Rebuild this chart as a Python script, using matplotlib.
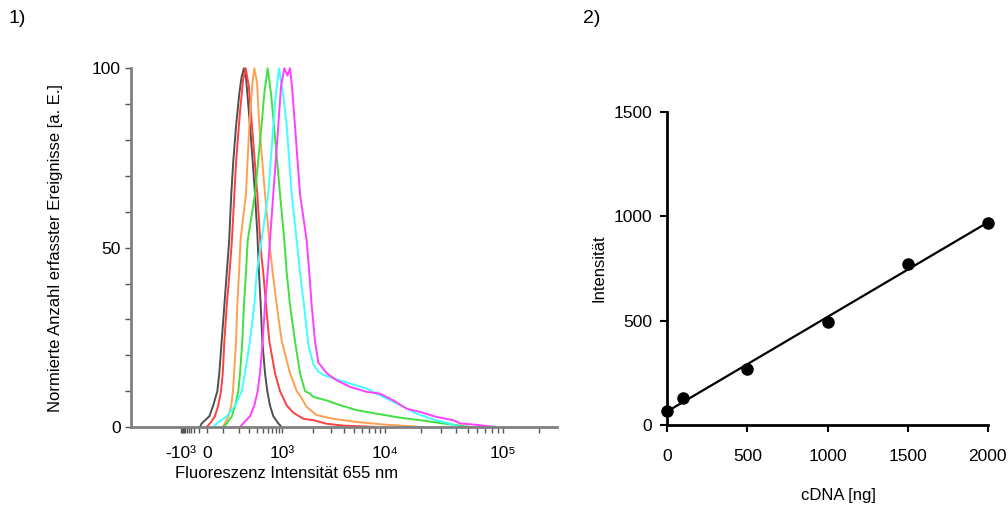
import numpy as np
import matplotlib
matplotlib.use("Agg")
import matplotlib.pyplot as plt
from matplotlib.ticker import FixedLocator, FixedFormatter, NullFormatter

plt.rcParams['font.family'] = ['Liberation Sans', 'DejaVu Sans']

# ---- panel 1: flow cytometry histograms (fluorescence, normalised counts)
black_x = [-90, -65, 13, 35, 60, 73, 90, 107, 120, 134, 147, 160, 180, 205, 224, 246, 266, 280, 310, 343, 374, 407,
           433, 461, 489, 540, 587, 647, 730, 874, 989]
black_y = [0, 1, 3, 6, 10, 15, 24, 34, 43, 52, 65, 74, 84, 93, 97.5, 100, 97.5, 93, 84, 74, 65, 54,
           43, 34, 24, 15, 10, 6, 3, 1, 0]

red_x = [-5, 17, 45, 66, 85, 98, 107, 120, 136, 151, 180, 211, 239, 263, 296, 334, 407, 461, 478, 507, 560, 631,
         776, 930, 1111, 1287, 1610, 2013, 2716, 3910, 8300]
red_y = [0, 1, 3, 6, 10, 15, 24, 34, 43, 52, 74, 88, 97, 100, 95, 84, 65, 50, 47, 43, 34, 24,
         15, 10, 6, 4, 2.3, 1.9, 0.9, 0.4, 0]

orange_x = [98, 110, 129, 147, 158, 166, 180, 189, 203, 215, 266, 302, 340, 364, 403, 438, 540, 647, 714, 826, 989,
            1196, 1389, 1496, 1737, 2173, 3148, 5310, 9620, 20420]
orange_y = [0, 1, 3, 6, 10, 15, 24, 34, 43, 52, 65, 84, 96, 100, 96, 84, 65, 50, 43, 34, 24,
            15, 10, 8.8, 5.6, 3.3, 2.3, 1.4, 0.7, 0]

green_x = [102, 120, 151, 173, 197, 211, 231, 246, 266, 284, 374, 475, 526, 595, 671, 748, 930, 1053, 1111, 1196,
           1337, 1496, 1673, 1870, 2013, 2339, 2716, 3656, 5310, 8300, 13390, 19760, 29170, 40370, 52300]
green_y = [0, 1, 3, 6, 10, 15, 24, 34, 43, 52, 65, 84, 93, 100, 93, 84, 65, 52, 43, 34,
           24, 15, 10, 9.3, 8.4, 7.9, 7.4, 6.1, 4.7, 3.7, 2.6, 1.9, 1.1, 0.5, 0]

cyan_x = [35, 56, 120, 173, 226, 256, 310, 364, 398, 475, 608, 730, 803, 897, 1022, 1111, 1242, 1389, 1496, 1635,
          1800, 2013, 2251, 2518, 3656, 6640, 9620, 13390, 18530, 25600, 35410, 43050]
cyan_y = [0, 1, 3, 6, 10, 15, 24, 34, 43, 52, 65, 84, 93, 100, 93, 84, 65, 52, 43, 34,
          23, 17.5, 15.5, 14.5, 13, 10.7, 8.4, 6.1, 3.7, 2.1, 0.9, 0]

magenta_x = [211, 239, 310, 364, 413, 449, 496, 540, 595, 647, 730, 874, 964, 1053, 1131, 1196, 1250, 1337, 1496, 1737,
             1841, 1942, 2091, 2251, 2716, 3400, 4571, 6640, 8940, 11750, 15250, 19760, 27350, 37760, 43050,
             59600, 85100]
magenta_y = [0, 1, 3, 6, 10, 15, 24, 34, 43, 52, 65, 84, 95, 100, 98, 100, 95, 84, 65, 52,
             43, 34, 24, 18, 15, 13, 11.2, 9.8, 9.3, 7.4, 5.1, 4.2, 2.8, 1.9, 1.0,
             0.6, 0]

hist_colors = ['#505050', '#ff4040', '#ffa050', '#40e040', '#40ffff', '#ff40ff']

x_major = [-1000, 0, 1000, 10000, 100000]
x_major_labels = ['-10³', '0', '10³', '10⁴', '10⁵']

# ---- panel 2: calibration
cdna = [0, 100, 500, 1000, 1500, 2000]
intensity = [68, 131, 268, 495, 770, 966]

# biexponential-like axis (asinh, stretched per decade)
anch_v = np.array([-1e6, -5000, -1000, 0, 100, 1000, 1e4, 1e5, 1e6, 1e7])
anch_p = np.array([-34, 131, 181, 207, 223, 282, 385, 503.3, 621.6, 740])
anch_u = np.arcsinh(anch_v / 100) / np.log(10)


def fwd(x):
    return np.interp(np.arcsinh(np.asarray(x, dtype=float) / 100) / np.log(10), anch_u, anch_p)


def inv(p):
    return 100 * np.sinh(np.interp(np.asarray(p, dtype=float), anch_p, anch_u) * np.log(10))


fig = plt.figure(figsize=(10.08, 5.08), dpi=100)

ax1 = fig.add_axes([131 / 1008, 1 - 427 / 508, 426 / 1008, (427 - 68.3) / 508])
ax1.set_xscale('function', functions=(fwd, inv))
curves = [(black_x, black_y), (red_x, red_y), (orange_x, orange_y),
          (green_x, green_y), (cyan_x, cyan_y), (magenta_x, magenta_y)]
for (cx, cy), col in zip(curves, hist_colors):
    ax1.plot(cx, cy, color=col, lw=1.4, clip_on=False)
ax1.set_xlim(-5000, 284000)
ax1.set_ylim(0, 100)

minors = list(range(-900, 0, 100)) + list(range(100, 1000, 100)) + \
    [k * 1000 for k in range(2, 10)] + [k * 10000 for k in range(2, 10)] + [200000]
ax1.xaxis.set_major_locator(FixedLocator(x_major))
ax1.xaxis.set_major_formatter(FixedFormatter(x_major_labels))
ax1.xaxis.set_minor_locator(FixedLocator(minors))
ax1.xaxis.set_minor_formatter(NullFormatter())
ax1.set_yticks([0, 50, 100])
ax1.set_yticks(range(0, 101, 10), minor=True)

for s in ['top', 'right']:
    ax1.spines[s].set_visible(False)
for s in ['left', 'bottom']:
    ax1.spines[s].set_color('#808080')
    ax1.spines[s].set_linewidth(2)
ax1.tick_params(which='both', direction='out', length=4, width=1, color='#555555',
                labelsize=12.5, labelcolor='black')
ax1.tick_params(axis='x', pad=10)
ax1.set_xlabel('Fluoreszenz Intensität 655 nm', fontsize=12)
ax1.xaxis.set_label_coords(0.366, -0.108)
ax1.set_ylabel('Normierte Anzahl erfasster Ereignisse [a. E.]', fontsize=12)
ax1.yaxis.set_label_coords(-0.16, 0.5)

# ---- panel 2
ax2 = fig.add_axes([667.3 / 1008, 1 - 425 / 508, 320.4 / 1008, 313.3 / 508])
slope, icpt = np.polyfit(cdna, intensity, 1)
fit_x = np.array([cdna[0], cdna[-1]])
ax2.plot(fit_x, slope * fit_x + icpt, color='black', lw=1.6, clip_on=False)
ax2.plot(cdna, intensity, 'o', color='black', ms=8, clip_on=False)
ax2.set_xlim(0, 2000)
ax2.set_ylim(0, 1500)
ax2.set_xticks([0, 500, 1000, 1500, 2000])
ax2.set_yticks([0, 500, 1000, 1500])
for s in ['top', 'right']:
    ax2.spines[s].set_visible(False)
for s in ['left', 'bottom']:
    ax2.spines[s].set_linewidth(2)
ax2.tick_params(direction='out', length=5, width=1.5, labelsize=12.5)
ax2.tick_params(axis='x', pad=12)
ax2.tick_params(axis='y', pad=6)
ax2.set_xlabel('cDNA [ng]', fontsize=12)
ax2.xaxis.set_label_coords(0.533, -0.2)
ax2.set_ylabel('Intensität', fontsize=12)
ax2.yaxis.set_label_coords(-0.19, 0.5)

fig.text(8 / 1008, 1 - 10 / 508, '1)', fontsize=14, va='top')
fig.text(583 / 1008, 1 - 10 / 508, '2)', fontsize=14, va='top')

fig.savefig('out.png', dpi=100)
